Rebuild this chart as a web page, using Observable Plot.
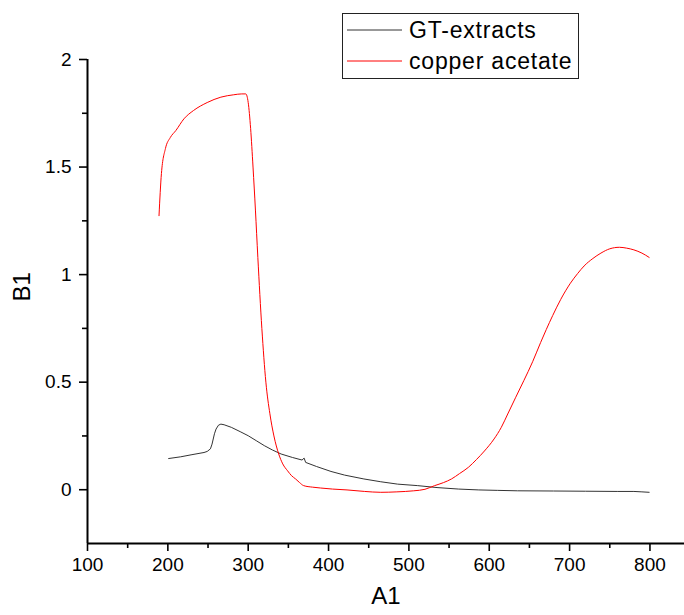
<!DOCTYPE html>
<html>
<head>
<meta charset="utf-8">
<script src="https://cdn.jsdelivr.net/npm/d3@7"></script>
<script src="https://cdn.jsdelivr.net/npm/@observablehq/plot@0.6"></script>
<style>
  html, body { margin: 0; padding: 0; background: #fff; }
  #wrap { position: relative; width: 684px; height: 615px; font-family: "Liberation Sans", Arial, sans-serif; }
  #legend { position: absolute; left: 342px; top: 13px; width: 237px; height: 66px; border: 1px solid #222; background: #fff; box-sizing: border-box; }
</style>
</head>
<body>
<div id="wrap"></div>
<script>
const seriesNames = ["GT-extracts", "copper acetate"];
const seriesColors = ["#333333", "#ff0000"];

const gtX = [201, 216, 230, 245, 249, 253, 255, 258, 260, 263, 266, 270, 279, 290, 300, 310, 320, 330, 341, 355, 367, 369.6, 371.5, 385, 403, 420, 444, 465, 486, 511, 535, 562, 587, 610, 635, 680, 720, 760, 780, 790, 799];
const gtY = [0.145, 0.153, 0.163, 0.173, 0.178, 0.19, 0.212, 0.26, 0.282, 0.300, 0.305, 0.302, 0.29, 0.27, 0.251, 0.228, 0.205, 0.185, 0.166, 0.15, 0.138, 0.147, 0.127, 0.108, 0.085, 0.068, 0.05, 0.037, 0.026, 0.019, 0.010, 0.003, -0.001, -0.003, -0.005, -0.006, -0.007, -0.008, -0.008, -0.010, -0.012];

const cuX = [189, 192, 197, 203, 210, 220, 232, 249, 266, 282, 292, 297, 300, 303, 306, 309, 312, 317, 322, 327, 332, 338, 343, 349, 354, 359, 364, 369, 380, 390, 405, 423, 445, 465, 485, 506, 520, 532, 543, 553, 563, 574, 584, 594, 606, 615, 623, 633, 643, 654, 664, 671, 679, 689, 701, 710, 718, 729, 739, 750, 762, 771, 780, 790, 799];
const cuY = [1.274, 1.47, 1.586, 1.637, 1.67, 1.724, 1.763, 1.80, 1.825, 1.836, 1.84, 1.84, 1.80, 1.68, 1.50, 1.30, 1.08, 0.75, 0.50, 0.353, 0.25, 0.166, 0.12, 0.088, 0.065, 0.05, 0.033, 0.019, 0.012, 0.008, 0.003, -0.001, -0.008, -0.012, -0.010, -0.005, 0.002, 0.019, 0.033, 0.05, 0.075, 0.104, 0.14, 0.18, 0.236, 0.29, 0.352, 0.43, 0.507, 0.595, 0.685, 0.745, 0.81, 0.885, 0.96, 1.005, 1.04, 1.075, 1.10, 1.12, 1.127, 1.123, 1.115, 1.10, 1.08];

const xMajor = [100, 200, 300, 400, 500, 600, 700, 800];
const xMinor = [150, 250, 350, 450, 550, 650, 750];
const yMajor = [0, 0.5, 1, 1.5, 2];
const yMinor = [0.25, 0.75, 1.25, 1.75];
const xDomain = [100, 843];
const yDomain = [-0.25, 2];
const xTitle = "A1";
const yTitle = "B1";

const gt = gtX.map((x, i) => ({x, y: gtY[i]}));
const cu = cuX.map((x, i) => ({x, y: cuY[i]}));

const font = "Liberation Sans, Arial, sans-serif";

const chart = Plot.plot({
  width: 684,
  height: 615,
  marginLeft: 87,
  marginRight: 0,
  marginTop: 59,
  marginBottom: 72,
  style: {fontFamily: font, background: "#fff", color: "#000", overflow: "visible"},
  x: {domain: xDomain},
  y: {domain: yDomain},
  marks: [
    Plot.line(gt, {x: "x", y: "y", stroke: seriesColors[0], strokeWidth: 1}),
    Plot.line(cu, {x: "x", y: "y", stroke: seriesColors[1], strokeWidth: 1, curve: "monotone-x"}),
    Plot.axisX({ticks: xMajor, tickSize: 8, tickPadding: 6, fontSize: 19, strokeWidth: 1.6, label: null, tickFormat: d => String(d)}),
    Plot.axisX({ticks: xMinor, tickSize: 5, strokeWidth: 1.6, text: null, label: null}),
    Plot.axisY({ticks: yMajor, tickSize: 8, tickPadding: 8, fontSize: 19, strokeWidth: 1.6, label: null, tickFormat: d => String(d)}),
    Plot.axisY({ticks: yMinor, tickSize: 5, strokeWidth: 1.6, text: null, label: null}),
    Plot.ruleY([yDomain[0]], {stroke: "#000", strokeWidth: 2}),
    Plot.ruleX([xDomain[0]], {stroke: "#000", strokeWidth: 2}),
    Plot.text([xTitle], {frameAnchor: "bottom", dy: 60, fontSize: 24, fill: "#000", text: d => d}),
    Plot.text([yTitle], {frameAnchor: "left", dx: -65, rotate: -90, fontSize: 24, fill: "#000", text: d => d})
  ]
});

const wrap = document.getElementById("wrap");
wrap.appendChild(chart);

// legend overlay
const legend = document.createElement("div");
legend.id = "legend";
const ns = "http://www.w3.org/2000/svg";
const lsvg = document.createElementNS(ns, "svg");
lsvg.setAttribute("width", 235);
lsvg.setAttribute("height", 64);
lsvg.style.display = "block";
seriesNames.forEach((name, i) => {
  const yy = 16 + i * 31;
  const ln = document.createElementNS(ns, "line");
  ln.setAttribute("x1", 4); ln.setAttribute("x2", 59);
  ln.setAttribute("y1", yy); ln.setAttribute("y2", yy);
  ln.setAttribute("stroke", seriesColors[i]);
  ln.setAttribute("stroke-width", 1);
  lsvg.appendChild(ln);
  const t = document.createElementNS(ns, "text");
  t.setAttribute("x", 66);
  t.setAttribute("y", yy);
  t.setAttribute("dy", "0.35em");
  t.setAttribute("font-size", 23);
  t.setAttribute("letter-spacing", "0.8");
  t.setAttribute("font-family", font);
  t.setAttribute("fill", "#000");
  t.textContent = name;
  lsvg.appendChild(t);
});
legend.appendChild(lsvg);
wrap.appendChild(legend);
</script>
</body>
</html>
